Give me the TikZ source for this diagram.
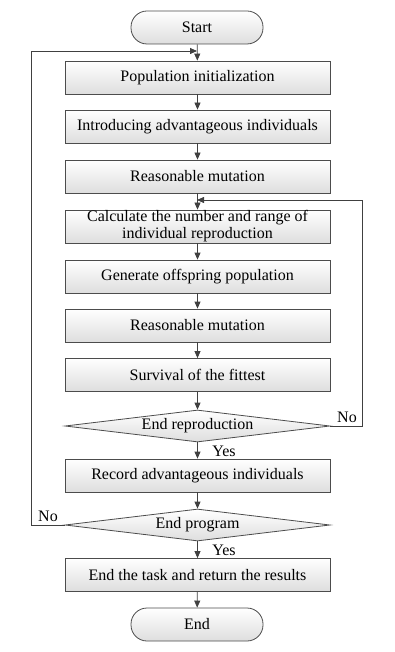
\documentclass[tikz,border=0pt]{standalone}
\usepackage{fontspec}
\setmainfont{Liberation Serif}
\usetikzlibrary{arrows.meta,positioning,shapes.geometric}

\begin{document}
\begin{tikzpicture}[x=1pt,y=1pt,
    proc/.style={draw=black!70,line width=0.8pt,top color=white,bottom color=black!13,
      minimum width=265pt,minimum height=33pt,inner sep=0pt,align=center,
      font=\fontsize{16}{17}\selectfont},
    term/.style={proc,rounded corners=16pt,minimum width=132pt},
    decide/.style={proc,diamond,aspect=8.3,inner sep=0pt,minimum width=265pt,minimum height=32pt},
    flow/.style={draw=black!75,line width=0.8pt,-{Triangle[length=7pt,width=6pt]}},
    lbl/.style={font=\fontsize{16}{17}\selectfont}]
  \useasboundingbox (0,0) rectangle (395,-652);
  \node[term] (start) at (197,-27.5) {Start};
  \node[proc] (init) at (197.5,-77.5) {Population initialization};
  \node[proc] (elite) at (197.5,-126.5) {Introducing advantageous individuals};
  \node[proc] (mut1) at (197.5,-176.5) {Reasonable mutation};
  \node[proc] (calc) at (197.5,-226.5) {Calculate the number and range of\\individual reproduction};
  \node[proc] (gen) at (197.5,-276.5) {Generate offspring population};
  \node[proc] (mut2) at (197.5,-325.5) {Reasonable mutation};
  \node[proc] (surv) at (197.5,-375) {Survival of the fittest};
  \node[decide] (repro) at (197.5,-426) {End reproduction};
  \node[proc] (rec) at (197.5,-475.5) {Record advantageous individuals};
  \node[decide] (prog) at (197.5,-525) {End program};
  \node[proc] (task) at (197.5,-575) {End the task and return the results};
  \node[term] (stop) at (197,-624.5) {End};
  \foreach \a/\b in {start/init,init/elite,elite/mut1,mut1/calc,calc/gen,gen/mut2,mut2/surv,surv/repro,repro/rec,rec/prog,prog/task,task/stop}
    \draw[flow] (\a) -- (\b);
  % back loops
  \coordinate (top1) at (197,-51);
  \coordinate (top2) at (197,-200);
  \draw[flow] (prog.west) -- ++(-33,0) |- (top1);
  \draw[flow] (repro.east) -- ++(32,0) |- (top2);
  \node[lbl] (yes1) at (224,-451) {Yes};
  \node[lbl] (yes2) at (224,-550) {Yes};
  \node[lbl] (no1) at (347,-417) {No};
  \node[lbl] (no2) at (48,-516) {No};
\end{tikzpicture}
\end{document}
